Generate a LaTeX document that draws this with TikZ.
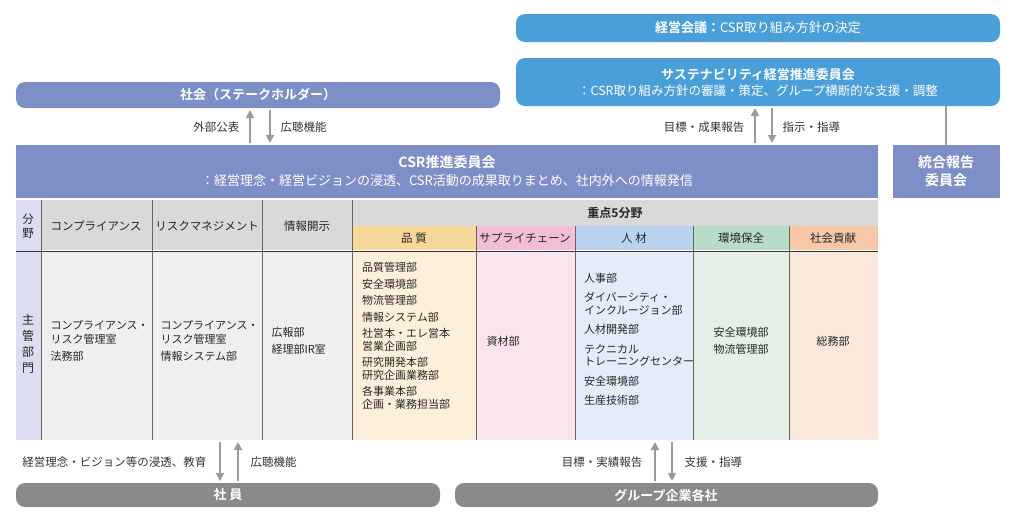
\documentclass[tikz,border=0pt]{standalone}
\usepackage{fontspec}
\setmainfont{Noto Sans CJK JP}
\newfontfamily\jpbold{Noto Sans CJK JP Bold}
\newfontfamily\jpreg{Noto Sans CJK JP}
\usetikzlibrary{positioning,arrows.meta}
\definecolor{skyblue}{HTML}{4A9FD8}
\definecolor{lavblue}{HTML}{7E8FC8}
\definecolor{darkgray}{HTML}{8A8A8A}
\definecolor{hdgray}{HTML}{D9D9D9}
\definecolor{bdgray}{HTML}{EFEFEF}
\definecolor{sidecol}{HTML}{DCDDF0}
\definecolor{qhd}{HTML}{F8D79A}\definecolor{qbd}{HTML}{FDF0DA}
\definecolor{shd}{HTML}{F3BDD5}\definecolor{sbd}{HTML}{FBE4EC}
\definecolor{hhd}{HTML}{B9D3F0}\definecolor{hbd}{HTML}{E3ECF8}
\definecolor{ehd}{HTML}{B9DCC8}\definecolor{ebd}{HTML}{E3EFE7}
\definecolor{chd}{HTML}{F6C8A8}\definecolor{cbd}{HTML}{FBE8DC}
\definecolor{arrgray}{HTML}{9A9A9A}
\tikzset{
  topbox/.style = {text=white, font=\jpbold\fontsize{13}{16}\selectfont, align=center},
  flow/.style = {-{Triangle[length=8pt,width=8pt]}, line width=1.8pt, draw=arrgray},
  lbl/.style = {font=\fontsize{11.5}{13}\selectfont, text=black!80},
  cell/.style = {font=\fontsize{11}{14}\selectfont, align=left, text=black!85},
  hcell/.style = {font=\fontsize{11.5}{14}\selectfont, align=center, text=black!85}
}
\begin{document}
\begin{tikzpicture}[x=1pt,y=-1pt]
\useasboundingbox (0,0) rectangle (1016,525);

% upper boxes
\fill[skyblue, rounded corners=9pt] (516,14) rectangle (1000,42);
\node[topbox] (kaigi) at (758,28) {経営会議：{\jpreg CSR取り組み方針の決定}};
\fill[skyblue, rounded corners=9pt] (516,58) rectangle (1000,106);
\node[topbox] (sust) at (758,82) {サステナビリティ経営推進委員会\\{\jpreg\fontsize{12.5}{16}\selectfont ：CSR取り組み方針の審議・策定、グループ横断的な支援・調整}};
\fill[lavblue, rounded corners=9pt] (16,82) rectangle (500,108);
\node[topbox] (shakai) at (258,95) {社会（ステークホルダー）};

% CSR committee
\fill[lavblue] (16,145) rectangle (878,198);
\node[topbox, font=\jpbold\fontsize{14}{18}\selectfont] (csr) at (447,171) {CSR推進委員会\\{\jpreg\fontsize{13}{17}\selectfont ：経営理念・経営ビジョンの浸透、CSR活動の成果取りまとめ、社内外への情報発信}};
\fill[lavblue] (893,145) rectangle (1000,198);
\node[topbox, font=\jpbold\fontsize{14}{18}\selectfont] (togo) at (946,171) {統合報告\\委員会};
\draw[arrgray, line width=1.6pt] (946,106) -- (946,145);

% arrows society
\draw[flow] (250,143) -- (250,110);
\draw[flow] (270,110) -- (270,143);
\node[lbl, anchor=east] (kohyo) at (243,127) {外部公表};
\node[lbl, anchor=west] (kocho) at (277,127) {広聴機能};
\draw[flow] (755,143) -- (755,108);
\draw[flow] (772,108) -- (772,143);
\node[lbl, anchor=east] (hokoku) at (748,127) {目標・成果報告};
\node[lbl, anchor=west] (shiji) at (779,127) {指示・指導};

% table
\fill[sidecol] (16,200) rectangle (41,440);
\fill[hdgray] (41,200) rectangle (878,250);
\foreach \xa/\xb/\bc in {41/152/bdgray,152/262/bdgray,262/352/bdgray,352/476/qbd,476/575/sbd,575/693/hbd,693/789/ebd,789/878/cbd}
  \fill[\bc] (\xa,252) rectangle (\xb,440);
\foreach \xa/\xb/\hc in {352/476/qhd,476/575/shd,575/693/hhd,693/789/ehd,789/878/chd}
  \fill[\hc] (\xa,226) rectangle (\xb,250);
\draw[black!80, line width=1pt] (16,251) -- (878,251);
\foreach \xv in {41,152,262,352}
  \draw[black!60, line width=0.5pt] (\xv,200) -- (\xv,440);
\foreach \xv in {476,575,693,789}
  \draw[black!60, line width=0.5pt] (\xv,226) -- (\xv,440);

\node[hcell] (bunya) at (28,226) {分\\野};
\node[hcell] (hcomp) at (96,226) {コンプライアンス};
\node[hcell] (hrisk) at (207,226) {リスクマネジメント};
\node[hcell] (hjoho) at (307,226) {情報開示};
\node[hcell, font=\jpbold\fontsize{12}{14}\selectfont] (juten) at (615,213) {重点5分野};
\node[hcell] (hq) at (414,238) {品 質};
\node[hcell] (hs) at (525,238) {サプライチェーン};
\node[hcell] (hh) at (634,238) {人 材};
\node[hcell] (he) at (741,238) {環境保全};
\node[hcell] (hc) at (833,238) {社会貢献};

% body
\node[hcell, font=\fontsize{12}{16}\selectfont] (shukan) at (28,344) {主\\管\\部\\門};
\node[cell, anchor=west] (bcomp) at (47,341) {コンプライアンス・\\リスク管理室\\[3pt]法務部};
\node[cell, anchor=west] (brisk) at (157,341) {コンプライアンス・\\リスク管理室\\[3pt]情報システム部};
\node[cell, anchor=west] (bjoho) at (268,341) {広報部\\[3pt]経理部IR室};
\node[cell, anchor=north west, font=\fontsize{11}{12.5}\selectfont, inner sep=0pt] (bq) at (362,262) {品質管理部\\[4pt]安全環境部\\[4pt]物流管理部\\[4pt]情報システム部\\[4pt]社営本・エレ営本\\営業企画部\\[4pt]研究開発本部\\研究企画業務部\\[4pt]各事業本部\\企画・業務担当部};
\node[cell, anchor=west] (bs) at (483,341) {資材部};
\node[cell, anchor=north west, font=\fontsize{11}{12.5}\selectfont, inner sep=0pt] (bh) at (584,273) {人事部\\[7pt]ダイバーシティ・\\インクルージョン部\\[7pt]人材開発部\\[7pt]テクニカル\\トレーニングセンター\\[7pt]安全環境部\\[7pt]生産技術部};
\node[cell, align=left] (be) at (741,341) {安全環境部\\[3pt]物流管理部};
\node[cell] (bc) at (833,341) {総務部};

% bottom boxes
\fill[darkgray, rounded corners=9pt] (16,483) rectangle (440,507);
\node[topbox] (shain) at (228,495) {社 員};
\fill[darkgray, rounded corners=9pt] (455,483) rectangle (878,507);
\node[topbox] (group) at (666,495) {グループ企業各社};
\draw[flow] (220,442) -- (220,481);
\draw[flow] (238,481) -- (238,442);
\node[lbl, anchor=east] (kyoiku) at (210,462) {経営理念・ビジョン等の浸透、教育};
\node[lbl, anchor=west] (kocho2) at (247,462) {広聴機能};
\draw[flow] (655,481) -- (655,442);
\draw[flow] (672,442) -- (672,481);
\node[lbl, anchor=east] (jisseki) at (646,462) {目標・実績報告};
\node[lbl, anchor=west] (shien) at (681,462) {支援・指導};
\end{tikzpicture}
\end{document}
